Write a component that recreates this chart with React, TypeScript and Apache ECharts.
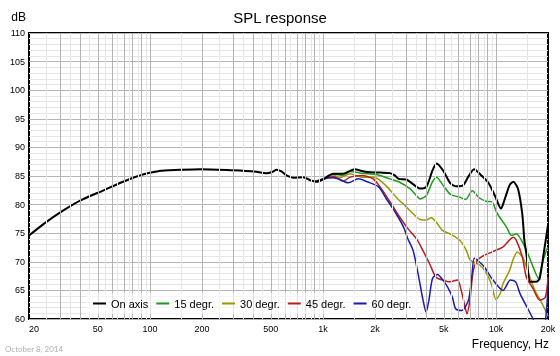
import React, { useEffect, useRef } from "react";
import * as echarts from "echarts";

const FREQ_TICKS = [20, 50, 100, 200, 500, 1000, 2000, 5000, 10000, 20000];
const GRID_MAJOR = [
  30, 40, 50, 60, 70, 80, 90, 100, 200, 300, 400, 500, 600, 700, 800, 900, 1000,
  2000, 3000, 4000, 5000, 6000, 7000, 8000, 9000, 10000,
];
const GRID_MINOR = [
  25, 35, 45, 55, 65, 75, 85, 95, 150, 250, 350, 450, 550, 650, 750, 850, 950,
  1500, 2500, 3500, 4500, 5500, 6500, 7500, 8500, 9500, 15000,
];
const SERIES_NAMES = ["On axis", "15 degr.", "30 degr.", "45 degr.", "60 degr."];
const SERIES_COLORS = ["#000000", "#1c9c1c", "#9a9a00", "#b42020", "#1c1ca6"];

const ON_AXIS = [
  [20, 74.6], [25, 76.9], [31.6, 79.0], [40, 80.8], [54, 82.5], [70, 84.0], [92, 85.3],
  [110, 85.8], [130, 86.0], [150, 86.1], [195, 86.2], [300, 86.0], [400, 85.8], [474, 85.5],
  [510, 85.7], [540, 86.1], [575, 85.8], [616, 85.1], [674, 84.7], [770, 84.8], [844, 84.25],
  [920, 84.0], [1000, 84.4], [1146, 85.4], [1310, 85.4], [1435, 85.9], [1530, 86.2],
  [1670, 85.9], [1800, 85.7], [2140, 85.6], [2440, 85.5], [2600, 85.1], [2740, 84.5],
  [3030, 84.4], [3480, 83.1], [3650, 82.8], [3960, 83.1], [4300, 86.0], [4540, 87.2],
  [4940, 86.0], [5460, 83.7], [5910, 83.2], [6420, 83.3], [6900, 84.8], [7480, 86.2],
  [8240, 85.1], [9100, 83.7], [9950, 81.3], [10700, 79.3], [11200, 80.8], [12000, 83.4],
  [12600, 84.0], [13400, 82.8], [14200, 78.4], [14600, 73.8], [15000, 71.4], [15800, 66.5],
  [17100, 66.5], [17900, 67.1], [19000, 72.0], [20000, 76.4],
];
const DEG15 = [
  [900, 84.1], [1000, 84.5], [1146, 85.3], [1310, 85.1], [1435, 85.8], [1670, 85.5],
  [1950, 85.3], [2140, 85.1], [2440, 84.5], [2740, 84.0], [3180, 82.8], [3540, 81.3],
  [3650, 81.0], [3960, 81.6], [4300, 84.0], [4540, 84.8], [4940, 83.4], [5460, 81.8],
  [6170, 81.3], [6680, 80.9], [7300, 82.4], [8000, 81.2], [8750, 80.6], [9450, 80.5],
  [10200, 78.4], [11500, 76.1], [12300, 74.6], [13100, 74.9], [15000, 72.0], [16400, 69.1],
  [17600, 67.1], [18500, 69.7], [19600, 72.0], [20000, 72.5],
];
const DEG30 = [
  [900, 84.1], [1000, 84.4], [1146, 85.2], [1250, 84.7], [1435, 85.4], [1670, 84.8],
  [1950, 84.8], [2100, 84.4], [2350, 83.1], [2650, 81.3], [3030, 79.6], [3480, 77.8],
  [3650, 77.4], [3960, 77.3], [4220, 77.7], [4500, 77.0], [4900, 75.5], [5400, 74.9],
  [6160, 73.8], [6740, 72.0], [7100, 70.3], [8100, 69.4], [8800, 68.0], [9440, 66.0],
  [10000, 63.4], [10600, 64.5], [11000, 66.2], [12000, 68.5], [12600, 70.5], [13300, 71.7],
  [14400, 70.6], [15800, 67.1], [17000, 64.7], [18500, 62.7], [20000, 60.5],
];
const DEG45 = [
  [900, 84.0], [1000, 84.4], [1146, 84.9], [1310, 84.1], [1435, 84.8], [1670, 85.1],
  [1950, 84.5], [2140, 83.1], [2440, 80.5], [2740, 78.1], [3100, 75.8], [3480, 74.0],
  [3780, 72.0], [4130, 69.7], [4500, 67.3], [4940, 66.8], [5400, 66.5], [6000, 66.8],
  [6300, 65.0], [6640, 62.0], [6800, 60.9], [7070, 63.3], [7400, 68.5], [7830, 70.3],
  [8500, 71.1], [9450, 71.7], [11000, 72.6], [12600, 74.3], [13100, 73.8], [14200, 70.9],
  [15000, 67.3], [16400, 65.3], [17900, 63.3], [19300, 63.8], [20000, 67.3],
];
const DEG60 = [
  [900, 84.0], [1000, 84.5], [1146, 84.7], [1250, 84.4], [1400, 83.8], [1600, 84.5],
  [1800, 84.0], [2100, 83.1], [2350, 80.8], [2650, 78.4], [2920, 76.1], [3100, 74.0],
  [3320, 72.0], [3550, 67.9], [3790, 63.3], [3950, 61.2], [4100, 63.3], [4300, 67.1],
  [4600, 67.8], [4940, 66.8], [5250, 65.6], [5600, 63.8], [5850, 61.8], [6350, 61.5],
  [6940, 63.3], [7250, 67.3], [7500, 70.6], [8000, 70.0], [8580, 69.1], [9460, 67.1],
  [11000, 65.0], [12100, 66.8], [13000, 66.5], [13800, 64.4], [15100, 62.1], [16400, 60.0],
  [17500, 58.0], [19000, 58.5], [19700, 62.5], [20000, 66.0],
];

const SERIES_DATA = [ON_AXIS, DEG15, DEG30, DEG45, DEG60];

const lg = (f: number) => Math.log10(f);
const FONT = "'Liberation Sans', Arial, sans-serif";

export default function App() {
  const ref = useRef<HTMLDivElement>(null);
  useEffect(() => {
    const chart = echarts.init(ref.current!, null, { renderer: "svg" });
    const dataSeries = SERIES_DATA.map((pts, i) => ({
      name: SERIES_NAMES[i],
      type: "line",
      data: pts.map(([f, v]) => [lg(f), v]),
      showSymbol: false,
      smooth: 0.25,
      clip: true,
      z: i === 0 ? 4 : 3,
      lineStyle: { color: SERIES_COLORS[i], width: i === 0 ? 2 : 1.5 },
      itemStyle: { color: SERIES_COLORS[i] },
      emphasis: { disabled: true },
    }));
    const gridSeries = (vals: number[], color: string) => ({
      type: "line",
      data: [],
      silent: true,
      z: 1,
      markLine: {
        silent: true,
        symbol: ["none", "none"],
        label: { show: false },
        emphasis: { disabled: true },
        lineStyle: { color, width: 1, type: "solid" },
        data: vals.map((f) => ({ xAxis: lg(f) })),
      },
    });
    chart.setOption({
      animation: false,
      textStyle: { fontFamily: FONT },
      title: {
        text: "SPL response",
        left: "center",
        top: 10,
        padding: 0,
        textStyle: { fontSize: 15, fontWeight: "normal", color: "#000", fontFamily: FONT },
      },
      grid: {
        left: 29,
        right: 12,
        top: 33,
        bottom: 37,
        show: true,
        borderColor: "#000",
        borderWidth: 2,
        backgroundColor: "transparent",
      },
      legend: {
        data: SERIES_NAMES,
        icon: "rect",
        left: 86,
        top: 293,
        itemWidth: 13,
        itemHeight: 2,
        itemGap: 8,
        padding: [5, 7],
        backgroundColor: "rgba(255,255,255,0.6)",
        z: 10,
        textStyle: { fontSize: 11, color: "#000", width: 50, fontFamily: FONT },
      },
      xAxis: {
        type: "value",
        min: lg(20),
        max: lg(20000),
        axisLine: { show: false },
        axisTick: { show: false },
        splitLine: { show: false },
        axisLabel: {
          customValues: FREQ_TICKS.map(lg),
          formatter: (v: number) => {
            const f = Math.round(Math.pow(10, v));
            return f >= 1000 ? f / 1000 + "k" : String(f);
          },
          fontSize: 9,
          color: "#000",
          margin: 5,
          alignMinLabel: "left",
          fontFamily: FONT,
        },
      },
      yAxis: {
        type: "value",
        min: 60,
        max: 110,
        interval: 5,
        axisLine: { show: false },
        axisTick: { show: false },
        axisLabel: { fontSize: 9, color: "#000", margin: 4, fontFamily: FONT },
        splitLine: { lineStyle: { color: "#b4b4b4", width: 1 } },
        minorTick: { show: false, splitNumber: 5 },
        minorSplitLine: { show: true, lineStyle: { color: "#e6e6e6", width: 1 } },
      },
      graphic: [
        {
          type: "text",
          right: 534,
          top: 11,
          style: { text: "dB", fontSize: 12, fill: "#000", fontFamily: FONT },
        },
        {
          type: "text",
          right: 11,
          top: 338,
          style: { text: "Frequency, Hz", fontSize: 12, fill: "#000", fontFamily: FONT },
        },
        {
          type: "text",
          left: 5,
          top: 345,
          style: { text: "October 8, 2014", fontSize: 8, fill: "#b0b0b0", fontFamily: "Lato, sans-serif" },
        },
      ],
      series: [gridSeries(GRID_MINOR, "#e6e6e6"), gridSeries(GRID_MAJOR, "#b4b4b4"), ...dataSeries],
    });
    return () => chart.dispose();
  }, []);
  return <div ref={ref} style={{ position: "fixed", left: 0, top: 0, width: 560, height: 356 }} />;
}
